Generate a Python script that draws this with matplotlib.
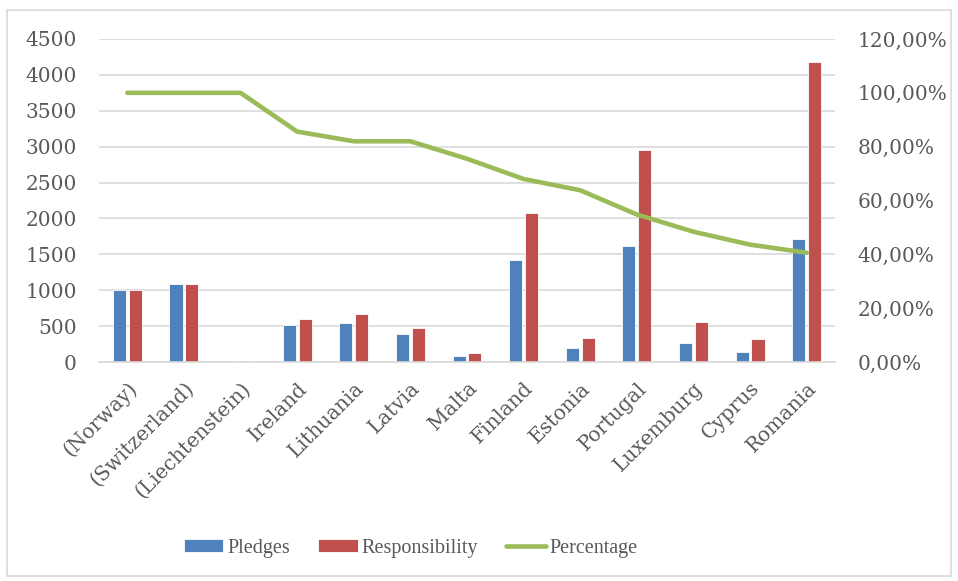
import matplotlib.pyplot as plt
import numpy as np
from matplotlib.ticker import FuncFormatter
from matplotlib.patches import Rectangle

countries = ['(Norway)', '(Switzerland)', '(Liechtenstein)', 'Ireland', 'Lithuania',
             'Latvia', 'Malta', 'Finland', 'Estonia', 'Portugal', 'Luxemburg',
             'Cyprus', 'Romania']
pledges = [1000, 1080, 8, 510, 550, 390, 90, 1420, 200, 1620, 265, 140, 1710]
responsibility = [1000, 1080, 8, 600, 670, 480, 130, 2080, 330, 2950, 560, 320, 4180]
percentage = [100.0, 100.0, 100.0, 85.6, 82.0, 82.0, 75.5, 68.0, 63.8, 54.8, 48.4, 43.6, 40.6]

plt.rcParams['font.family'] = ['DejaVu Serif']
text_color = '#595959'
grid_color = '#D9D9D9'

fig = plt.figure(figsize=(9.58, 5.81), dpi=100)
ax1 = fig.add_axes([99 / 958, 1 - 362 / 581, (835 - 99) / 958, (362 - 39) / 581])
ax2 = ax1.twinx()

x = np.arange(len(countries))
w = 0.23
ax1.bar(x - 0.14, pledges, w, color='#4F81BD', edgecolor='white', linewidth=0.6,
        label='Pledges', zorder=2)
ax1.bar(x + 0.14, responsibility, w, color='#C0504D', edgecolor='white', linewidth=0.6,
        label='Responsibility', zorder=2)
ax2.plot(x, percentage, color='#9BBB59', linewidth=3.3, solid_capstyle='round',
         solid_joinstyle='round', label='Percentage')

ax1.set_xlim(-0.5, len(countries) - 0.5)
ax1.set_ylim(0, 4500)
ax1.set_yticks(np.arange(0, 4501, 500))
ax2.set_ylim(0, 120)
ax2.set_yticks(np.arange(0, 121, 20))
ax2.yaxis.set_major_formatter(FuncFormatter(lambda v, p: f'{v:.2f}%'.replace('.', ',')))

ax1.yaxis.grid(True, color=grid_color, linewidth=1.2, zorder=0)
ax1.set_axisbelow(True)
for a in (ax1, ax2):
    for s in a.spines.values():
        s.set_visible(False)
    a.tick_params(length=0, labelsize=14.5, labelcolor=text_color)
ax1.spines['bottom'].set_visible(True)
ax1.spines['bottom'].set_color(grid_color)
ax1.spines['bottom'].set_linewidth(1.2)
ax1.tick_params(axis='y', pad=16)
ax2.tick_params(axis='y', pad=16)

ax1.set_xticks(x)
ax1.set_xticklabels(countries, rotation=45, ha='right', rotation_mode='anchor')
ax1.tick_params(axis='x', pad=12)

h1, l1 = ax1.get_legend_handles_labels()
h2, l2 = ax2.get_legend_handles_labels()
fig.legend(h1 + h2, l1 + l2, loc='center', bbox_to_anchor=(411 / 958, 1 - 548 / 581),
           ncol=3, frameon=False, labelcolor=text_color,
           prop={'family': 'Liberation Serif', 'size': 14.5},
           handlelength=1.95, handleheight=0.65, columnspacing=1.4, handletextpad=0.2)

fig.patches.append(Rectangle((7 / 958, 1 - 576 / 581), 944 / 958, 566 / 581,
                             transform=fig.transFigure, fill=False,
                             edgecolor=grid_color, linewidth=1.2))

fig.savefig('out.png', dpi=100)
